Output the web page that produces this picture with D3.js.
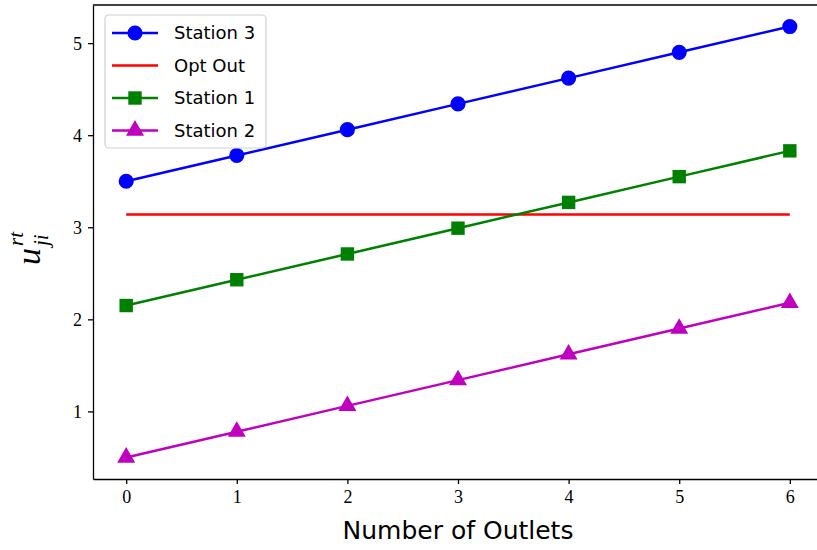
<!DOCTYPE html>
<html>
<head>
<meta charset="utf-8">
<script src="https://cdn.jsdelivr.net/npm/d3@7"></script>
<style>
  body { margin: 0; background: #fff; }
  .tick text { font-family: "Liberation Serif", serif; font-size: 18px; fill: #000; }
</style>
</head>
<body>
<div id="chart"></div>
<script>
// Data
const outlets = [0, 1, 2, 3, 4, 5, 6];
const station3 = [3.50, 3.78, 4.06, 4.34, 4.62, 4.90, 5.18];
const optOut = [3.14, 3.14, 3.14, 3.14, 3.14, 3.14, 3.14];
const station1 = [2.15, 2.43, 2.71, 2.99, 3.27, 3.55, 3.83];
const station2 = [0.50, 0.78, 1.06, 1.34, 1.62, 1.90, 2.18];
const xTicks = [0, 1, 2, 3, 4, 5, 6];
const yTicks = [1, 2, 3, 4, 5];

const series = [
  { name: "Station 3", values: station3, color: "#0000ff", marker: "circle" },
  { name: "Opt Out", values: optOut, color: "#ff0000", marker: null },
  { name: "Station 1", values: station1, color: "#008000", marker: "square" },
  { name: "Station 2", values: station2, color: "#bf00bf", marker: "triangle" }
];

const width = 817, height = 550;
const margin = { left: 93, right: -6, top: 5, bottom: 71 };

const svg = d3.select("#chart").append("svg")
    .attr("width", width)
    .attr("height", height);

const x = d3.scaleLinear().domain([-0.3, 6.3]).range([margin.left, width - margin.right]);
const y = d3.scaleLinear().domain([0.266, 5.414]).range([height - margin.bottom, margin.top]);

// Axes
svg.append("g")
    .attr("transform", `translate(0,${height - margin.bottom})`)
    .call(d3.axisBottom(x).tickValues(xTicks).tickSize(5).tickSizeOuter(0).tickPadding(6).tickFormat(d3.format("d")))
    .call(g => g.select(".domain").attr("stroke-width", 1.3))
    .call(g => g.selectAll(".tick line").attr("stroke-width", 1.3));

svg.append("g")
    .attr("transform", `translate(${margin.left},0)`)
    .call(d3.axisLeft(y).tickValues(yTicks).tickSize(5).tickSizeOuter(0).tickPadding(6).tickFormat(d3.format("d")))
    .call(g => g.select(".domain").attr("stroke-width", 1.3))
    .call(g => g.selectAll(".tick line").attr("stroke-width", 1.3))
    .call(g => g.selectAll(".tick text").attr("dy", "0.35em"));

// top spine
svg.append("line")
    .attr("x1", margin.left).attr("x2", width - margin.right)
    .attr("y1", margin.top).attr("y2", margin.top)
    .attr("stroke", "#000").attr("stroke-width", 1.3);

// Lines and markers
const line = d3.line().x((d, i) => x(outlets[i])).y(d => y(d));

const markerPath = (type, size) => {
  if (type === "circle") return d3.symbol(d3.symbolCircle, size)();
  if (type === "square") return d3.symbol(d3.symbolSquare, size)();
  return d3.symbol(d3.symbolTriangle, size)();
};

series.forEach(s => {
  svg.append("path")
      .datum(s.values)
      .attr("d", line)
      .attr("fill", "none")
      .attr("stroke", s.color)
      .attr("stroke-width", 2.5);
  if (s.marker) {
    svg.selectAll(null)
        .data(s.values)
        .enter().append("path")
        .attr("transform", (d, i) => `translate(${x(outlets[i])},${y(d)})`)
        .attr("d", markerPath(s.marker, s.marker === "triangle" ? 140 : 180))
        .attr("fill", s.color);
  }
});

// Legend
const legend = svg.append("g").attr("transform", "translate(105,15)");
legend.append("rect")
    .attr("width", 161).attr("height", 133)
    .attr("rx", 4)
    .attr("fill", "#fff").attr("fill-opacity", 0.8)
    .attr("stroke", "#d0d0d0").attr("stroke-width", 1.2);

series.forEach((s, i) => {
  const g = legend.append("g").attr("transform", `translate(0,${18 + i * 32.5})`);
  g.append("line")
      .attr("x1", 7).attr("x2", 53)
      .attr("stroke", s.color).attr("stroke-width", 2.5);
  if (s.marker) {
    g.append("path")
        .attr("transform", "translate(30,0)")
        .attr("d", markerPath(s.marker, s.marker === "triangle" ? 140 : 180))
        .attr("fill", s.color);
  }
  g.append("text")
      .attr("x", 69).attr("dy", "0.35em")
      .style("font-family", "'DejaVu Sans', sans-serif")
      .style("font-size", "18px")
      .text(s.name);
});

// X label
svg.append("text")
    .attr("x", (x(-0.3) + x(6.3)) / 2)
    .attr("y", 539)
    .attr("text-anchor", "middle")
    .style("font-family", "'DejaVu Sans', sans-serif")
    .style("font-size", "25px")
    .text("Number of Outlets");

// Y label: u_{ji}^{rt}
const yl = svg.append("g").attr("transform", "translate(40,265) rotate(-90)");
yl.append("text")
    .attr("x", 0).attr("y", 0)
    .style("font-family", "'Liberation Serif', serif")
    .style("font-style", "italic")
    .style("font-size", "34px")
    .text("u");
yl.append("text")
    .attr("x", 19).attr("y", -17)
    .style("font-family", "'Liberation Serif', serif")
    .style("font-style", "italic")
    .style("font-size", "21px")
    .text("rt");
yl.append("text")
    .attr("x", 19).attr("y", 8)
    .style("font-family", "'Liberation Serif', serif")
    .style("font-style", "italic")
    .style("font-size", "21px")
    .text("ji");
</script>
</body>
</html>
